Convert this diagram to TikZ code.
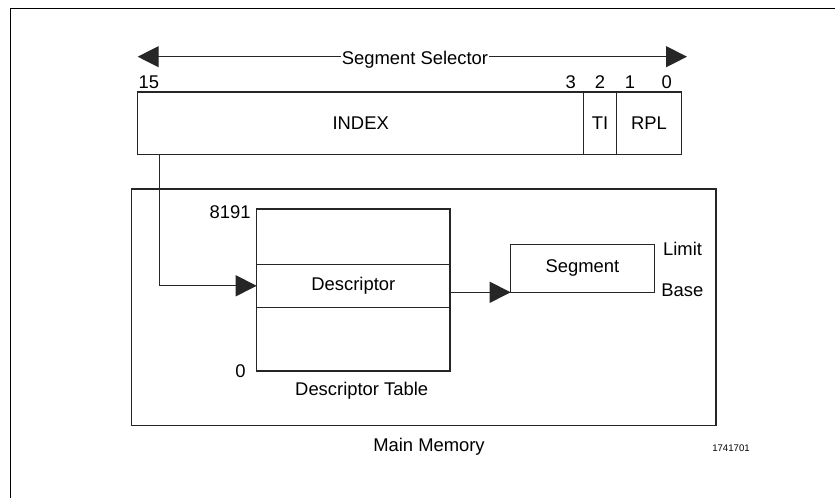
\documentclass[tikz,border=0pt]{standalone}
\usepackage{fontspec}
\setmainfont{Liberation Sans}
\usetikzlibrary{positioning,arrows.meta}

\tikzset{
  >={Triangle[length=10.5pt,width=10.5pt]},
  line/.style={draw=black!85, line width=0.6pt},
  field/.style={line, minimum height=31.15pt, inner sep=0pt, outer sep=0pt},
  row/.style={line, minimum width=96.65pt, inner sep=0pt, outer sep=0pt},
  bitno/.style={anchor=base, inner sep=0pt},
  ptr/.style={line, ->},
}

\begin{document}
\begin{tikzpicture}[x=0.5pt, y=-0.5pt, font=\fontsize{9.2}{11}\selectfont]
\useasboundingbox (0,0) rectangle (835,498);
\draw[line width=0.7pt] (10.3,498) -- (10.3,8.3) -- (835,8.3);

% segment selector
\coordinate (selL) at (137.7,56.7);
\coordinate (selR) at (687,56.7);
\draw[line, <->] (selL) -- node[fill=white, inner sep=0.6pt, xshift=1.3pt, yshift=-1.4pt] (sellabel) {Segment Selector} (selR);

\node[field, minimum width=223pt] (index) at (360.7,123.15) {INDEX};
\node[field, minimum width=16.3pt, right=0pt of index] (ti) {TI};
\node[field, minimum width=32.7pt, right=0pt of ti] (rpl) {RPL};

\node[bitno, anchor=base west] (b15) at (138.3,88) {15};
\node[bitno] (b3) at (570.7,88) {3};
\node[bitno] (b2) at (600,88) {2};
\node[bitno] (b1) at (630,88) {1};
\node[bitno] (b0) at (666.7,88) {0};

% main memory
\node[line, minimum width=292.15pt, minimum height=118.35pt, inner sep=0pt, outer sep=0pt] (mem) at (423.85,307.35) {};
\node (memlabel) at (429,447) {Main Memory};
\node[font=\fontsize{4.8}{6}\selectfont] (figno) at (731,448.3) {1741701};

% descriptor table
\node[row, minimum height=21.5pt] (desc) at (353.35,285.8) {Descriptor};
\node[row, minimum height=27.65pt, above=0pt of desc] (tabtop) {};
\node[row, minimum height=31.85pt, below=0pt of desc] (tabbot) {};
\node[anchor=east, inner sep=0pt] (hi) at (251,211.7) {8191};
\node[anchor=east, inner sep=0pt] (lo) at (246,371) {0};
\node (tablabel) at (361.7,390.7) {Descriptor Table};

% segment
\node[line, minimum width=71.8pt, minimum height=24pt, inner sep=0pt, outer sep=0pt] (seg) at (582.5,268.3) {Segment};
\node[anchor=west, inner sep=0pt] (limit) at (662.7,249) {Limit};
\node[anchor=west, inner sep=0pt] (base) at (661,290.7) {Base};

\draw[ptr] ([xshift=11pt]index.south west) |- (desc.west);
\draw[ptr] (desc.east |- seg.south west) -- (seg.south west);
\end{tikzpicture}
\end{document}
